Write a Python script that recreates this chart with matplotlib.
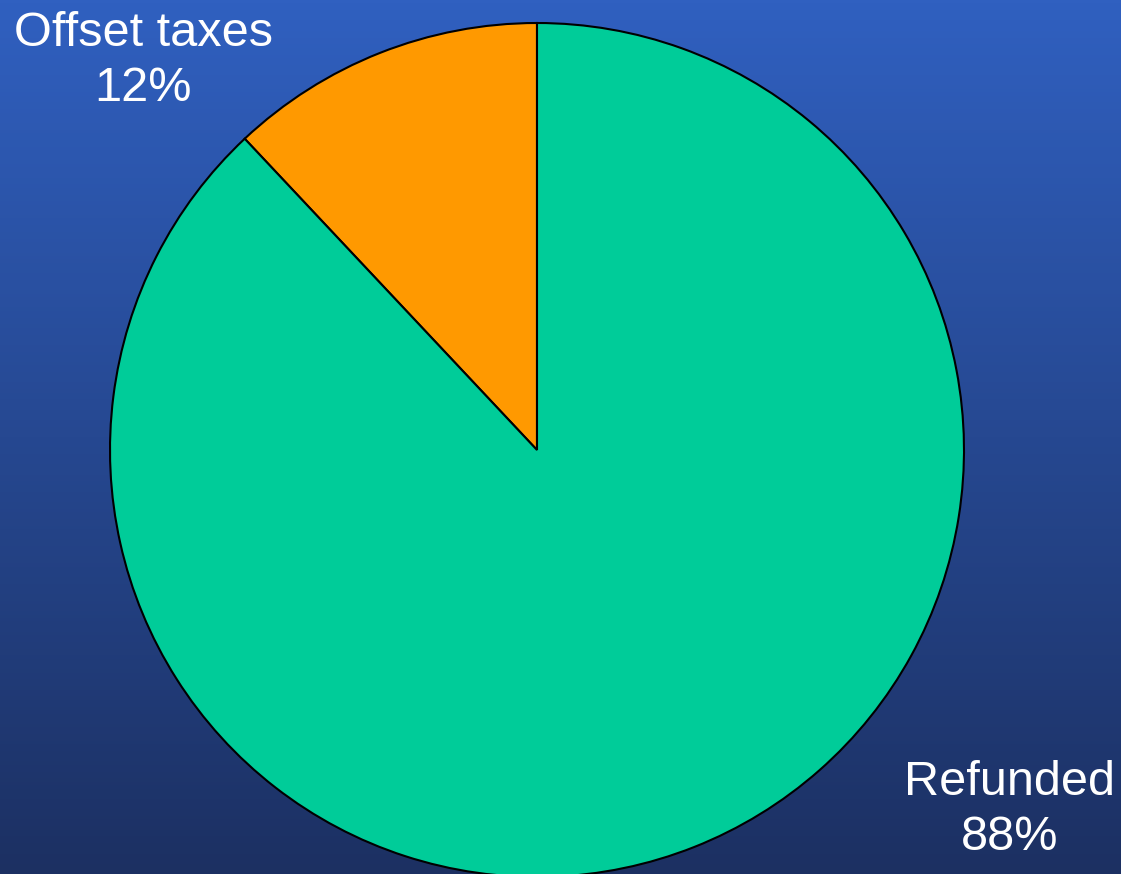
import numpy as np
import matplotlib.pyplot as plt

labels = ['Offset taxes', 'Refunded']
shares = [12, 88]
colors = ['#FF9900', '#00CC99']

W, H = 1121, 874
fig = plt.figure(figsize=(W / 100, H / 100), dpi=100)

# gradient background, lighter blue at the top
bg = fig.add_axes([0, 0, 1, 1])
top = np.array([48, 96, 192]) / 255
bottom = np.array([28, 48, 98]) / 255
t = np.linspace(0, 1, 256)[:, None, None]
grad = top * (1 - t) + bottom * t
grad = np.repeat(grad, 2, axis=1)
bg.imshow(grad, aspect='auto', extent=[0, 1, 0, 1], origin='upper')
bg.set_axis_off()

ax = fig.add_axes([0, 0, 1, 1])
ax.pie(shares, colors=colors, startangle=90, counterclock=True,
       center=(537, H - 450), radius=427,
       wedgeprops=dict(edgecolor='black', linewidth=1.5))
ax.set_xlim(0, W)
ax.set_ylim(0, H)
ax.set_aspect('equal')
ax.set_axis_off()

fs = 35
ax.text(143, H - 61, f'{labels[0]}\n{shares[0]}%', ha='center', va='center',
        color='white', fontsize=fs, family='Liberation Sans', linespacing=1.27)
ax.text(1010, H - 810, f'{labels[1]}\n{shares[1]}%', ha='center', va='center',
        color='white', fontsize=fs, family='Liberation Sans', linespacing=1.27)

fig.savefig('out.png', dpi=100)
